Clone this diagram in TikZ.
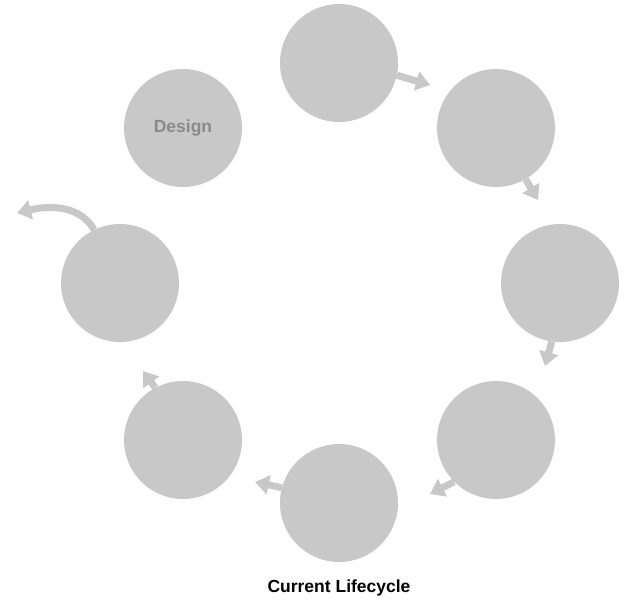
\documentclass[tikz,border=0pt]{standalone}
\usepackage{fontspec}
\setmainfont{Liberation Sans}
\usetikzlibrary{arrows.meta}
\definecolor{circ}{HTML}{C8C8C8}
\definecolor{lbl}{HTML}{8A8A8A}
\begin{document}
\begin{tikzpicture}[x=1pt,y=-1pt,
  stage/.style={circle,fill=circ,draw=none,minimum size=118pt,inner sep=0pt,
    font=\fontsize{17.5}{20}\selectfont\bfseries,text=lbl},
  flow/.style={draw=circ,line width=7pt,-{Triangle[width=19pt,length=14pt]}}]
\useasboundingbox (0,0) rectangle (625,600);
\node[stage] (c1) at (339,63) {};
\node[stage] (c2) at (496,128) {};
\node[stage] (c3) at (560,283) {};
\node[stage] (c4) at (496,440) {};
\node[stage] (c5) at (339,503) {};
\node[stage] (c6) at (183,440) {};
\node[stage] (c7) at (120,283) {};
\node[stage] (c8) at (183,128) {Design};
\coordinate (t1) at (430,85);
\coordinate (t2) at (538,200);
\coordinate (t3) at (545,366);
\coordinate (t4) at (430,494);
\coordinate (t5) at (255,482);
\coordinate (t6) at (143,371);
\coordinate (t7) at (17,213);
\draw[flow] (c1.-12) -- (t1);
\draw[flow] (c2.-60) -- (t2);
\draw[flow] (c3.-98) -- (t3);
\draw[flow] (c4.-135) -- (t4);
\draw[flow] (c5.165) -- (t5);
\draw[flow] (c6.118) -- (t6);
\draw[flow] (c7.116) .. controls (82,208) and (55,204) .. (t7);
\node[font=\fontsize{17.5}{20}\selectfont\bfseries] (title) at (339,588) {Current Lifecycle};
\end{tikzpicture}
\end{document}
